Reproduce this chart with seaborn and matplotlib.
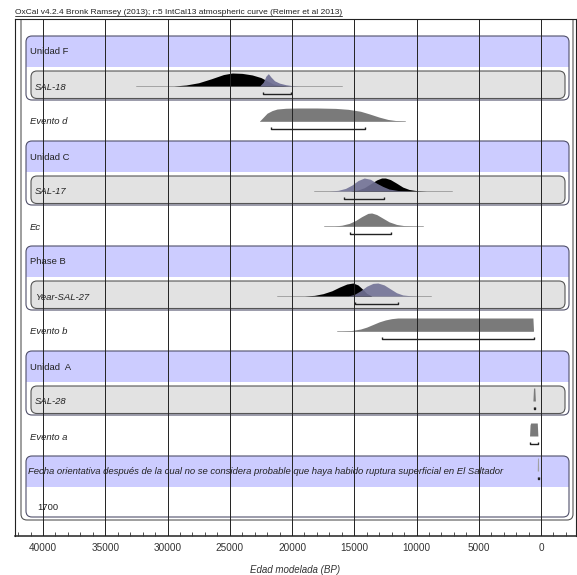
import numpy as np
import pandas as pd
import seaborn as sns
import matplotlib.pyplot as plt
from matplotlib.patches import FancyBboxPatch, Rectangle
from matplotlib.lines import Line2D
from matplotlib.ticker import MultipleLocator

# rows of the OxCal plot, top to bottom
row_labels = ["Unidad F", "SAL-18", "Evento d", "Unidad C", "SAL-17", "Ec",
              "Phase B", "Year-SAL-27", "Evento b", "Unidad  A", "SAL-28", "Evento a",
              "Fecha orientativa después de la cual no se considera probable que haya habido ruptura superficial en El Saltador",
              "1700"]
row_kinds = ["phase", "date", "event", "phase", "date", "event",
             "phase", "date", "event", "phase", "date", "event",
             "phase", "plain"]

# probability profiles (cal BP, relative height)
sal18_prior_bp = [29500, 28500, 27500, 26500, 25500, 24800, 24000, 23200, 22500, 22000, 21500, 21000, 20000]
sal18_prior_p = [0, 0.08, 0.25, 0.55, 0.88, 1.0, 0.97, 0.85, 0.65, 0.4, 0.15, 0.05, 0]
sal18_post_bp = [22600, 22300, 22100, 21900, 21700, 21400, 21000, 20500, 20000, 19500]
sal18_post_p = [0, 0.3, 0.75, 0.95, 0.7, 0.4, 0.22, 0.1, 0.03, 0]

evd_bp = [22600, 22300, 22000, 21600, 21200, 20500, 19500, 18000, 16500, 15500, 14500, 13800, 13000, 12300, 11700, 11000]
evd_p = [0, 0.3, 0.6, 0.8, 0.92, 0.98, 1.0, 1.0, 0.97, 0.9, 0.75, 0.55, 0.3, 0.12, 0.04, 0]

sal17_post_bp = [17000, 16300, 15700, 15200, 14700, 14200, 13700, 13200, 12700, 12200, 11500, 10500]
sal17_post_p = [0, 0.05, 0.2, 0.45, 0.8, 1.0, 0.9, 0.6, 0.35, 0.15, 0.04, 0]
sal17_prior_bp = [15300, 14700, 14200, 13700, 13200, 12800, 12500, 12100, 11600, 11100, 10600, 10000, 9200]
sal17_prior_p = [0, 0.08, 0.25, 0.55, 0.85, 1.0, 1.0, 0.88, 0.6, 0.3, 0.12, 0.03, 0]

ec_bp = [16600, 16000, 15400, 14900, 14400, 13900, 13600, 13200, 12700, 12200, 11600, 11000, 10300]
ec_p = [0, 0.06, 0.2, 0.42, 0.72, 0.97, 1.0, 0.88, 0.6, 0.32, 0.12, 0.03, 0]

sal27_prior_bp = [19000, 18200, 17500, 16800, 16200, 15600, 15100, 14700, 14300, 14000, 13600]
sal27_prior_p = [0, 0.05, 0.18, 0.4, 0.68, 0.92, 1.0, 0.85, 0.5, 0.2, 0]
sal27_post_bp = [15500, 15000, 14500, 14000, 13500, 13100, 12600, 12100, 11600, 11100, 10500, 9900]
sal27_post_p = [0, 0.12, 0.4, 0.75, 0.97, 1.0, 0.85, 0.55, 0.25, 0.08, 0.02, 0]

evb_bp = [16000, 15200, 14500, 14000, 13500, 13000, 12500, 12000, 11500, 10000, 5000, 1000, 650, 600]
evb_p = [0, 0.04, 0.15, 0.3, 0.5, 0.7, 0.85, 0.95, 1.0, 1.0, 1.0, 1.0, 1.0, 0]

sal28_bp = [650, 600, 500, 450]
sal28_p = [0, 1, 1, 0]
eva_bp = [920, 880, 830, 300, 250]
eva_p = [0, 0.85, 1, 1, 0]
fecha_bp = [300, 280, 210, 190]
fecha_p = [0, 1, 1, 0]

# thin lines under the distributions (cal BP)
range_rows = [1, 2, 4, 5, 7, 8]
range_from = [32500, 22600, 18200, 17400, 21200, 16400]
range_to = [16000, 10900, 7150, 9450, 8850, 650]

# 95.4% brackets (cal BP)
bracket_rows = [1, 2, 4, 5, 7, 8, 10, 11, 12]
bracket_from = [22300, 21700, 15800, 15350, 14900, 12750, 600, 880, 280]
bracket_to = [20100, 14100, 12600, 12050, 11500, 560, 500, 250, 200]

xticks = [40000, 35000, 30000, 25000, 20000, 15000, 10000, 5000, 0]

title = "OxCal v4.2.4 Bronk Ramsey (2013); r:5 IntCal13 atmospheric curve (Reimer et al 2013)"

BLACK = "#000000"
PURPLE = "#727296"
GREY = "#7a7a7a"
BAND = "#ccccff"
BOX = "#e2e2e2"

sns.set_theme(style="white")
plt.rcParams["font.family"] = ["Liberation Sans", "DejaVu Sans"]

W, H = 577, 575
fig = plt.figure(figsize=(W / 100, H / 100), dpi=100)
ax = fig.add_axes([15 / W, 1 - 536 / H, (576 - 15) / W, (536 - 19) / H])

# pixel helpers: 40000 BP at x=43px, 0 BP at x=541px; rows every 35px from y=52px
PPB = (541 - 43) / 40000.0
def px_x(px):
    return (541 - px) / PPB
def dy(px):
    return px / 35.0

ax.set_xlim(px_x(15), px_x(576))
ax.set_ylim(dy(536 - 52), dy(19 - 52))

aspect = PPB / 35.0
RAD = 6 / PPB

def rbox(x0px, x1px, y0, y1, **kw):
    xa, xb = px_x(x1px), px_x(x0px)
    p = FancyBboxPatch((xa, y0), xb - xa, y1 - y0,
                       boxstyle=f"round,pad=0,rounding_size={RAD}",
                       mutation_aspect=aspect, **kw)
    ax.add_patch(p)
    return p

# outer sequence box
rbox(21, 573, -1.5, 13 + dy(13), fc="none", ec="#555555", lw=0.8, zorder=1)

# phase groups: header row + following child row
for i, kind in enumerate(row_kinds):
    if kind != "phase":
        continue
    top = i - dy(16)
    bottom = i + 1 + (dy(13) if row_kinds[i + 1] == "date" else dy(10))
    fill = rbox(26, 569, top, bottom, fc=BAND, ec="none", zorder=1)
    clip = Rectangle((px_x(569), top), px_x(26) - px_x(569), dy(31), transform=ax.transData)
    fill.set_clip_path(clip)
    rbox(26, 569, top, bottom, fc="none", ec="#50506a", lw=0.8, zorder=1.2)

for i, kind in enumerate(row_kinds):
    if kind == "date":
        rbox(31, 565, i - dy(16), i + dy(11.5), fc=BOX, ec="#555555", lw=0.8, zorder=1.1)

# labels
for i, (lab, kind) in enumerate(zip(row_labels, row_kinds)):
    if kind == "phase" and i == 12:
        xpx, st = 28, "italic"
    elif kind == "phase":
        xpx, st = 30, "normal"
    elif kind == "date":
        xpx, st = 35, "italic"
    elif kind == "event":
        xpx, st = 30, "italic"
    else:
        xpx, st = 37, "normal"
    ax.text(px_x(xpx), i, lab, fontsize=6.8, style=st, va="center", ha="left",
            color="#222222", zorder=3)

# thin range lines
rng = pd.DataFrame({
    "bp": range_from + range_to,
    "y": [r - dy(1) for r in range_rows] * 2,
    "row": range_rows * 2,
})
sns.lineplot(data=rng, x="bp", y="y", units="row", estimator=None, sort=False,
             color="#9a9a9a", lw=0.6, ax=ax, zorder=1.4, legend=False)

# distributions
HT = dy(13)
def dist(row, bp, p, color, alpha=1.0, z=1.5):
    base = row - dy(1)
    top = [base - v * HT for v in p]
    ax.fill_between(bp, base, top, color=color, lw=0, alpha=alpha, zorder=z)

dist(1, sal18_prior_bp, sal18_prior_p, BLACK)
dist(1, sal18_post_bp, sal18_post_p, PURPLE, 0.95, 1.6)
dist(2, evd_bp, evd_p, GREY)
dist(4, sal17_prior_bp, sal17_prior_p, BLACK)
dist(4, sal17_post_bp, sal17_post_p, PURPLE, 0.9, 1.6)
dist(5, ec_bp, ec_p, GREY)
dist(7, sal27_prior_bp, sal27_prior_p, BLACK)
dist(7, sal27_post_bp, sal27_post_p, PURPLE, 0.9, 1.6)
dist(8, evb_bp, evb_p, GREY)
dist(10, sal28_bp, sal28_p, GREY)
dist(11, eva_bp, eva_p, GREY)
dist(12, fecha_bp, fecha_p, "#a0a0a0")

# brackets
for r, a, b in zip(bracket_rows, bracket_from, bracket_to):
    y = r + dy(7)
    t = dy(2)
    ax.plot([a, a, b, b], [y - t, y, y, y - t], color="#222222", lw=1.0, zorder=2,
            solid_capstyle="butt")

# axis styling
ax.set_xticks(xticks)
ax.set_xticklabels([str(t) for t in xticks])
ax.xaxis.set_minor_locator(MultipleLocator(1000))
ax.set_yticks([])
ax.tick_params(axis="x", which="major", direction="in", length=0, labelsize=7.2,
               labelcolor="#333333", pad=5)
ax.tick_params(axis="x", which="minor", direction="in", length=3, width=0.6,
               color="#333333", bottom=True)
ax.grid(True, axis="x", which="major", color="#222222", lw=0.7)
ax.set_axisbelow(False)
for s in ax.spines.values():
    s.set_color("#222222")
    s.set_linewidth(0.8)
ax.spines["bottom"].set_linewidth(1.1)
ax.set_xlabel("Edad modelada (BP)", fontsize=7, style="italic", color="#333333", labelpad=9)
ax.set_ylabel("")

t = fig.text(15 / W, 1 - 13 / H, title, fontsize=6, va="center", ha="left", color="#222222")
fig.canvas.draw()
bb = t.get_window_extent().transformed(fig.transFigure.inverted())
fig.add_artist(Line2D([bb.x0, bb.x1], [bb.y0 + 0.001, bb.y0 + 0.001], color="#222222", lw=0.6,
                      transform=fig.transFigure))

fig.savefig("out.png", dpi=100)
